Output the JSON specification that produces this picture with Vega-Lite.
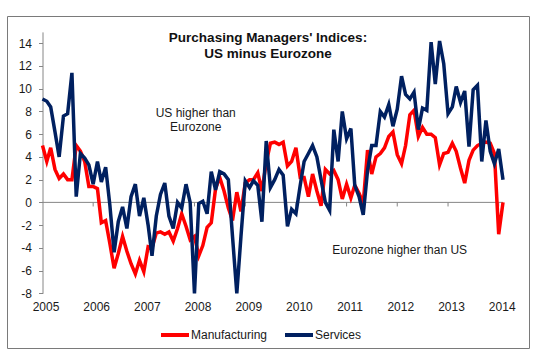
{
  "$schema": "https://vega.github.io/schema/vega-lite/v6.json",
  "width": 522,
  "height": 332,
  "autosize": "none",
  "padding": {"left": 7, "top": 16, "right": 16, "bottom": 12},
  "background": "white",
  "config": {
    "view": {"stroke": "#7a7a7a", "strokeWidth": 1},
    "font": "Liberation Sans",
    "axis": {"labelFont": "Liberation Sans", "labelFontSize": 12, "labelColor": "#1a1a1a", "grid": false, "title": null}
  },
  "title": {
    "text": ["Purchasing  Managers'  Indices:", "US minus Eurozone"],
    "fontSize": 13.5,
    "font": "Liberation Sans",
    "fontWeight": "bold",
    "color": "#111111",
    "anchor": "middle",
    "frame": "group",
    "offset": -44,
    "lineHeight": 15.5
  },
  "datasets": {
    "pmi": [
      {"d": "2005-01-01", "Manufacturing": 5.0, "Services": 9.1},
      {"d": "2005-02-01", "Manufacturing": 3.6, "Services": 8.9},
      {"d": "2005-03-01", "Manufacturing": 4.8, "Services": 8.4},
      {"d": "2005-04-01", "Manufacturing": 2.9, "Services": 6.2},
      {"d": "2005-05-01", "Manufacturing": 2.1, "Services": 4.0},
      {"d": "2005-06-01", "Manufacturing": 2.5, "Services": 7.6},
      {"d": "2005-07-01", "Manufacturing": 2.0, "Services": 7.8},
      {"d": "2005-08-01", "Manufacturing": 2.0, "Services": 11.4},
      {"d": "2005-09-01", "Manufacturing": 5.0, "Services": 0.5},
      {"d": "2005-10-01", "Manufacturing": 4.5, "Services": 4.3},
      {"d": "2005-11-01", "Manufacturing": 3.6, "Services": 3.9},
      {"d": "2005-12-01", "Manufacturing": 1.4, "Services": 3.3},
      {"d": "2006-01-01", "Manufacturing": 1.4, "Services": 1.6},
      {"d": "2006-02-01", "Manufacturing": 1.2, "Services": 3.6},
      {"d": "2006-03-01", "Manufacturing": -1.8, "Services": 1.8},
      {"d": "2006-04-01", "Manufacturing": -1.6, "Services": 3.1},
      {"d": "2006-05-01", "Manufacturing": -3.6, "Services": -0.2},
      {"d": "2006-06-01", "Manufacturing": -5.8, "Services": -4.4},
      {"d": "2006-07-01", "Manufacturing": -4.5, "Services": -1.7},
      {"d": "2006-08-01", "Manufacturing": -3.0, "Services": -0.4},
      {"d": "2006-09-01", "Manufacturing": -4.3, "Services": -2.3},
      {"d": "2006-10-01", "Manufacturing": -5.4, "Services": 0.5},
      {"d": "2006-11-01", "Manufacturing": -6.3, "Services": 1.6},
      {"d": "2006-12-01", "Manufacturing": -5.1, "Services": -1.2},
      {"d": "2007-01-01", "Manufacturing": -6.1, "Services": 0.4},
      {"d": "2007-02-01", "Manufacturing": -3.9, "Services": -2.0},
      {"d": "2007-03-01", "Manufacturing": -4.0, "Services": -4.7},
      {"d": "2007-04-01", "Manufacturing": -2.7, "Services": -1.2},
      {"d": "2007-05-01", "Manufacturing": -2.6, "Services": 0.7},
      {"d": "2007-06-01", "Manufacturing": -2.8, "Services": 1.7},
      {"d": "2007-07-01", "Manufacturing": -2.6, "Services": -1.2},
      {"d": "2007-08-01", "Manufacturing": -3.4, "Services": -2.3},
      {"d": "2007-09-01", "Manufacturing": -2.3, "Services": 0.0},
      {"d": "2007-10-01", "Manufacturing": -1.0, "Services": -0.5},
      {"d": "2007-11-01", "Manufacturing": -2.1, "Services": 1.6},
      {"d": "2007-12-01", "Manufacturing": -3.3, "Services": 0.0},
      {"d": "2008-01-01", "Manufacturing": -3.0, "Services": -8.0},
      {"d": "2008-02-01", "Manufacturing": -4.7, "Services": -0.1},
      {"d": "2008-03-01", "Manufacturing": -3.8, "Services": 0.1},
      {"d": "2008-04-01", "Manufacturing": -2.2, "Services": -1.0},
      {"d": "2008-05-01", "Manufacturing": -1.8, "Services": 2.7},
      {"d": "2008-06-01", "Manufacturing": 1.2, "Services": 1.1},
      {"d": "2008-07-01", "Manufacturing": 2.2, "Services": 2.7},
      {"d": "2008-08-01", "Manufacturing": 1.0, "Services": 2.5},
      {"d": "2008-09-01", "Manufacturing": -0.5, "Services": 2.0},
      {"d": "2008-10-01", "Manufacturing": -1.6, "Services": -3.0},
      {"d": "2008-11-01", "Manufacturing": 0.9, "Services": -8.0},
      {"d": "2008-12-01", "Manufacturing": -0.8, "Services": -3.0},
      {"d": "2009-01-01", "Manufacturing": 1.7, "Services": 1.9},
      {"d": "2009-02-01", "Manufacturing": 2.0, "Services": 1.3},
      {"d": "2009-03-01", "Manufacturing": 2.0, "Services": 1.9},
      {"d": "2009-04-01", "Manufacturing": 2.6, "Services": 1.5},
      {"d": "2009-05-01", "Manufacturing": 1.0, "Services": -1.7},
      {"d": "2009-06-01", "Manufacturing": 3.5, "Services": 5.4},
      {"d": "2009-07-01", "Manufacturing": 5.2, "Services": 1.3},
      {"d": "2009-08-01", "Manufacturing": 5.3, "Services": 2.0},
      {"d": "2009-09-01", "Manufacturing": 5.1, "Services": 2.9},
      {"d": "2009-10-01", "Manufacturing": 5.3, "Services": 2.4},
      {"d": "2009-11-01", "Manufacturing": 3.2, "Services": -2.1},
      {"d": "2009-12-01", "Manufacturing": 3.6, "Services": -0.6},
      {"d": "2010-01-01", "Manufacturing": 4.8, "Services": -1.0},
      {"d": "2010-02-01", "Manufacturing": 2.2, "Services": 1.5},
      {"d": "2010-03-01", "Manufacturing": 2.2, "Services": 3.6},
      {"d": "2010-04-01", "Manufacturing": 0.5, "Services": 4.3},
      {"d": "2010-05-01", "Manufacturing": 2.5, "Services": 5.0},
      {"d": "2010-06-01", "Manufacturing": 1.0, "Services": 4.0},
      {"d": "2010-07-01", "Manufacturing": -0.3, "Services": 2.0},
      {"d": "2010-08-01", "Manufacturing": 2.9, "Services": 0.0},
      {"d": "2010-09-01", "Manufacturing": 2.5, "Services": -0.7},
      {"d": "2010-10-01", "Manufacturing": 2.8, "Services": 6.4},
      {"d": "2010-11-01", "Manufacturing": 2.0, "Services": 3.6},
      {"d": "2010-12-01", "Manufacturing": 0.3, "Services": 8.0},
      {"d": "2011-01-01", "Manufacturing": 1.6, "Services": 5.6},
      {"d": "2011-02-01", "Manufacturing": 0.4, "Services": 6.5},
      {"d": "2011-03-01", "Manufacturing": 1.5, "Services": 1.5},
      {"d": "2011-04-01", "Manufacturing": 0.8, "Services": 0.5},
      {"d": "2011-05-01", "Manufacturing": -0.1, "Services": -1.1},
      {"d": "2011-06-01", "Manufacturing": 4.6, "Services": 2.8},
      {"d": "2011-07-01", "Manufacturing": 2.5, "Services": 5.0},
      {"d": "2011-08-01", "Manufacturing": 4.0, "Services": 5.0},
      {"d": "2011-09-01", "Manufacturing": 4.3, "Services": 8.0},
      {"d": "2011-10-01", "Manufacturing": 4.8, "Services": 7.5},
      {"d": "2011-11-01", "Manufacturing": 5.8, "Services": 8.6},
      {"d": "2011-12-01", "Manufacturing": 6.2, "Services": 6.7},
      {"d": "2012-01-01", "Manufacturing": 4.2, "Services": 8.2},
      {"d": "2012-02-01", "Manufacturing": 3.4, "Services": 11.1},
      {"d": "2012-03-01", "Manufacturing": 5.0, "Services": 9.5},
      {"d": "2012-04-01", "Manufacturing": 7.7, "Services": 9.1},
      {"d": "2012-05-01", "Manufacturing": 8.1, "Services": 9.7},
      {"d": "2012-06-01", "Manufacturing": 5.8, "Services": 6.4},
      {"d": "2012-07-01", "Manufacturing": 6.6, "Services": 8.3},
      {"d": "2012-08-01", "Manufacturing": 6.0, "Services": 8.1},
      {"d": "2012-09-01", "Manufacturing": 6.0, "Services": 14.1},
      {"d": "2012-10-01", "Manufacturing": 5.7, "Services": 10.4},
      {"d": "2012-11-01", "Manufacturing": 3.3, "Services": 14.2},
      {"d": "2012-12-01", "Manufacturing": 4.3, "Services": 12.2},
      {"d": "2013-01-01", "Manufacturing": 4.4, "Services": 7.8},
      {"d": "2013-02-01", "Manufacturing": 5.2, "Services": 8.4},
      {"d": "2013-03-01", "Manufacturing": 4.5, "Services": 10.2},
      {"d": "2013-04-01", "Manufacturing": 3.0, "Services": 8.8},
      {"d": "2013-05-01", "Manufacturing": 1.7, "Services": 9.8},
      {"d": "2013-06-01", "Manufacturing": 3.7, "Services": 4.9},
      {"d": "2013-07-01", "Manufacturing": 4.6, "Services": 9.9},
      {"d": "2013-08-01", "Manufacturing": 5.0, "Services": 10.3},
      {"d": "2013-09-01", "Manufacturing": 5.2, "Services": 3.6},
      {"d": "2013-10-01", "Manufacturing": 5.3, "Services": 7.2},
      {"d": "2013-11-01", "Manufacturing": 5.2, "Services": 4.5},
      {"d": "2013-12-01", "Manufacturing": 4.3, "Services": 3.4},
      {"d": "2014-01-01", "Manufacturing": -2.8, "Services": 4.7},
      {"d": "2014-02-01", "Manufacturing": 0.0, "Services": 2.0}
    ],
    "years": [
      {"yr": "2006-01-01"}, {"yr": "2007-01-01"}, {"yr": "2008-01-01"}, {"yr": "2009-01-01"},
      {"yr": "2010-01-01"}, {"yr": "2011-01-01"}, {"yr": "2012-01-01"}, {"yr": "2013-01-01"}, {"yr": "2014-01-01"}
    ]
  },
  "layer": [
    {
      "data": {"values": [{"from": "2005-01-01", "to": "2014-02-01", "level": 0}]},
      "mark": {"type": "rule", "color": "#868686", "strokeWidth": 1},
      "encoding": {
        "x": {"field": "from", "type": "temporal", "axis": null},
        "x2": {"field": "to"},
        "y": {"field": "level", "type": "quantitative", "axis": null}
      }
    },
    {
      "data": {"name": "years"},
      "mark": {"type": "rule", "color": "#868686", "strokeWidth": 1},
      "encoding": {
        "x": {"field": "yr", "type": "temporal", "axis": null},
        "y": {"datum": 0, "type": "quantitative", "axis": null},
        "y2": {"datum": -0.36}
      }
    },
    {
      "data": {"name": "pmi"},
      "transform": [{"fold": ["Manufacturing", "Services"], "as": ["series", "value"]}],
      "mark": {"type": "line", "strokeWidth": 3.5, "strokeJoin": "miter", "clip": false},
      "encoding": {
        "x": {
          "field": "d",
          "type": "temporal",
          "scale": {
            "type": "utc",
            "domain": [{"year": 2005, "month": 1, "date": 1, "utc": true}, {"year": 2014, "month": 2, "date": 1, "utc": true}],
            "range": [35.5, 496]
          },
          "axis": {
            "orient": "bottom",
            "offset": -54.7,
            "domain": false,
            "ticks": false,
            "labelPadding": 8,
            "labelOffset": 3,
            "labelFlush": false,
            "labelOverlap": false,
            "format": "%Y",
            "values": [
              {"year": 2005, "utc": true}, {"year": 2006, "utc": true}, {"year": 2007, "utc": true},
              {"year": 2008, "utc": true}, {"year": 2009, "utc": true}, {"year": 2010, "utc": true},
              {"year": 2011, "utc": true}, {"year": 2012, "utc": true}, {"year": 2013, "utc": true},
              {"year": 2014, "utc": true}
            ]
          }
        },
        "y": {
          "field": "value",
          "type": "quantitative",
          "scale": {"domain": [-8, 15], "range": [277.3, 15.9], "nice": false, "zero": false},
          "axis": {
            "orient": "left",
            "offset": -35.5,
            "values": [-8, -6, -4, -2, 0, 2, 4, 6, 8, 10, 12, 14],
            "domain": true,
            "domainColor": "#868686",
            "ticks": true,
            "tickColor": "#868686",
            "tickSize": 4,
            "labelPadding": 7,
            "labelExpr": "'' + datum.value"
          }
        },
        "color": {
          "field": "series",
          "type": "nominal",
          "scale": {"domain": ["Manufacturing", "Services"], "range": ["#ff0000", "#002060"]},
          "legend": {
            "orient": "none",
            "legendX": 152,
            "legendY": 303,
            "direction": "horizontal",
            "title": null,
            "padding": 0,
            "symbolType": "stroke",
            "symbolSize": 784,
            "symbolStrokeWidth": 4,
            "labelFontSize": 12,
            "labelFont": "Liberation Sans",
            "labelColor": "#1a1a1a",
            "labelOffset": 0,
            "columnPadding": 9
          }
        }
      }
    },
    {
      "data": {"values": [{"label": "US higher than Eurozone"}]},
      "mark": {"type": "text", "text": ["US higher than", "Eurozone"], "fontSize": 12, "font": "Liberation Sans", "color": "#1a1a1a", "align": "center", "baseline": "middle", "lineHeight": 13.5},
      "encoding": {
        "x": {"datum": {"year": 2008, "month": 1, "date": 10, "utc": true}, "type": "temporal", "axis": null},
        "y": {"datum": 7.83, "type": "quantitative", "axis": null}
      }
    },
    {
      "data": {"values": [{"label": "Eurozone higher than US"}]},
      "mark": {"type": "text", "fontSize": 12, "font": "Liberation Sans", "color": "#1a1a1a", "align": "center", "baseline": "middle"},
      "encoding": {
        "text": {"field": "label"},
        "x": {"datum": {"year": 2012, "month": 1, "date": 19, "utc": true}, "type": "temporal", "axis": null},
        "y": {"datum": -4.19, "type": "quantitative", "axis": null}
      }
    }
  ],
  "resolve": {"axis": {"x": "independent", "y": "independent"}}
}
